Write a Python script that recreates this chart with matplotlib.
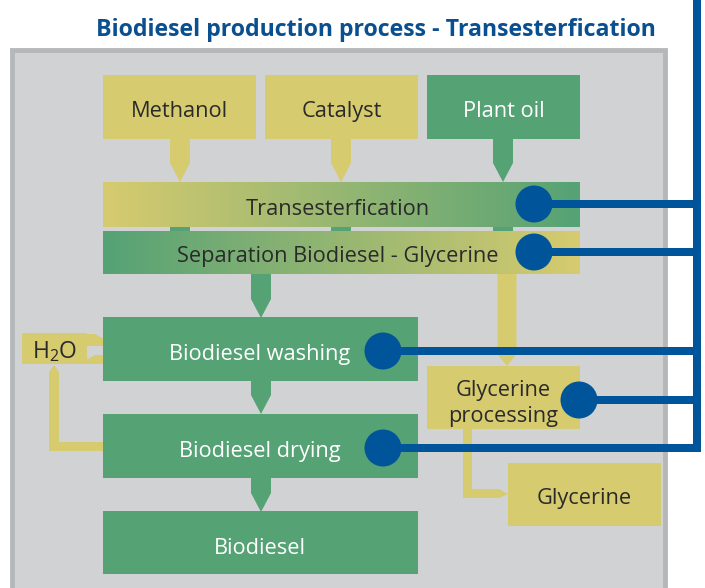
import numpy as np
import matplotlib
matplotlib.use("Agg")
import matplotlib.pyplot as plt
from matplotlib.patches import Rectangle, Polygon, Circle
from matplotlib.colors import to_rgb

# labels of the diagram
title = "Biodiesel production process - Transesterfication"
inputs = ["Methanol", "Catalyst", "Plant oil"]
bars = ["Transesterfication", "Separation Biodiesel - Glycerine"]
steps = ["Biodiesel washing", "Biodiesel drying", "Biodiesel"]
side = ["Glycerine\nprocessing", "Glycerine"]
water = r"H$_\mathregular{2}$O"

YEL = "#d7cb6f"
GRN = "#55a275"
BLUE = "#00559a"
PANEL = "#d1d2d4"
EDGE = "#b6b7b9"
DARK = "#2a2a2a"
FONT = "Open Sans"

fig = plt.figure(figsize=(7.05, 5.88), dpi=100)
ax = fig.add_axes([0, 0, 1, 1])
ax.set_xlim(0, 705)
ax.set_ylim(588, 0)
ax.axis("off")


def box(x0, y0, x1, y1, color, z=2):
    ax.add_patch(Rectangle((x0, y0), x1 - x0, y1 - y0, fc=color, ec="none", zorder=z))


def down_arrow(cx, y0, y1, color, w=20, tip=19, z=1.5):
    pts = [(cx - w / 2, y0), (cx + w / 2, y0), (cx + w / 2, y1 - tip),
           (cx, y1), (cx - w / 2, y1 - tip)]
    ax.add_patch(Polygon(pts, closed=True, fc=color, ec="none", zorder=z))


def label(x, y, s, color=DARK, size=15.7, **kw):
    # small downward nudge, va=center sits a bit high for this font
    ax.text(x, y + 4.5, s, ha="center", va="center", color=color, fontsize=size,
            family=FONT, zorder=6, **kw)


def grad(x0, y0, x1, y1, c0, c1):
    t = np.linspace(0, 1, 256)[:, None]
    img = (1 - t) * np.array(to_rgb(c0)) + t * np.array(to_rgb(c1))
    ax.imshow(img[None, :, :], extent=(x0, x1, y1, y0), aspect="auto",
              interpolation="bilinear", zorder=2)


# panel
ax.add_patch(Rectangle((12, 50), 653, 545, fc=PANEL, ec=EDGE, lw=3.5, zorder=0))

# title
ax.text(656, 30, title, ha="right", va="center", color="#0a4f8f", fontsize=16.7,
        fontweight="bold", family=FONT, zorder=6)

# input boxes
in_x = [(103, 256), (265, 418), (427, 580)]
in_col = [YEL, YEL, GRN]
arrow_x = [180, 341, 503]
for (x0, x1), c, ax_x, s in zip(in_x, in_col, arrow_x, inputs):
    box(x0, 75, x1, 139, c)
    down_arrow(ax_x, 139, 182, c)
    label((x0 + x1) / 2, 107, s, color="white" if c == GRN else DARK)

# connectors between the two bars
for cx in arrow_x:
    box(cx - 10, 226, cx + 10, 231, GRN, z=1.5)

grad(103, 182, 580, 227, YEL, GRN)
grad(103, 231, 580, 274, GRN, YEL)
label(338, 205, bars[0])
label(338, 252, bars[1])

# main chain
down_arrow(261, 273, 318, GRN)
down_arrow(261, 380, 414, GRN)
down_arrow(261, 477, 512, GRN)
step_y = [(317, 381), (414, 478), (511, 574)]
for (y0, y1), s in zip(step_y, steps):
    box(103, y0, 418, y1, GRN)
    label(260, (y0 + y1) / 2 + 1, s, color="white")

# glycerine branch
down_arrow(507, 273, 366, YEL, w=19, tip=12)
box(427, 366, 580, 429, YEL)
label(503, 399, side[0], linespacing=1.3)
ax.add_patch(Polygon([(463, 428), (472, 428), (472, 489), (499, 489), (508, 494),
                      (499, 498), (463, 498)], closed=True, fc=YEL, ec="none", zorder=1.5))
box(508, 463, 661, 526, YEL)
label(584, 494, side[1])

# water loop
box(22, 333, 87, 364, YEL)
label(55, 347, water, size=16.5)
ax.add_patch(Polygon([(86, 334), (95, 334), (104, 339), (104, 346), (86, 346)],
                     closed=True, fc=YEL, ec="none", zorder=1.5))
ax.add_patch(Polygon([(104, 355), (104, 364), (86, 364), (86, 360), (95, 355)],
                     closed=True, fc=YEL, ec="none", zorder=1.5))
ax.add_patch(Polygon([(54, 365), (59, 372), (59, 442), (104, 442), (104, 451),
                      (49, 451), (49, 372)], closed=True, fc=YEL, ec="none", zorder=1.5))

# blue control lines
lw = 8
ax.add_patch(Rectangle((693, 0), lw, 452, fc=BLUE, ec="none", zorder=4))
dots = [(534, 204), (534, 252), (383, 351), (579, 400), (383, 448)]
for cx, cy in dots:
    ax.add_patch(Rectangle((cx, cy - lw / 2), 697 - cx, lw, fc=BLUE, ec="none", zorder=4))
    ax.add_patch(Circle((cx, cy), 18.5, fc=BLUE, ec="none", zorder=5))

fig.savefig("out.png", dpi=100)
